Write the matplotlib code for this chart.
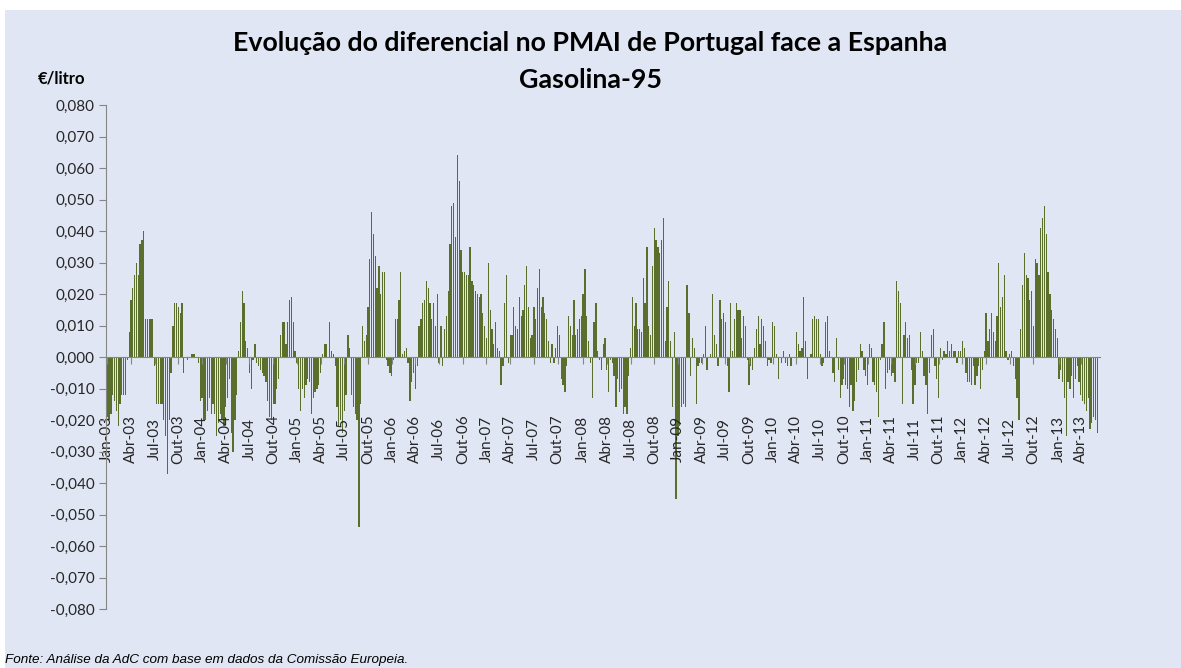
import numpy as np
import pandas as pd
import matplotlib
matplotlib.use("Agg")
import matplotlib.pyplot as plt
from matplotlib.patches import Rectangle
from matplotlib.ticker import FuncFormatter, MultipleLocator

# diferencial semanal PMAI Portugal - Espanha, gasolina 95 (EUR/litro)
# weekly values, first week = 6 Jan 2003
dif_2003 = [-0.019, -0.020, -0.018, -0.012, -0.014, -0.017, -0.022, -0.015, -0.012, -0.012, -0.012, -0.001,
            0.008, 0.018, 0.022, 0.026, 0.030, 0.026, 0.036, 0.037, 0.040, 0.012, 0.012, 0.012, 0.012, 0.012,
            -0.003, -0.015, -0.015, -0.015, -0.015, -0.020, -0.025, -0.037, -0.020, -0.005,
            0.010, 0.017, 0.017, 0.016, 0.014, 0.017, -0.005,
            0.000, -0.001, 0.000, 0.001, 0.001, 0.001, 0.000, -0.002, -0.014]
dif_2004 = [-0.013, -0.020, -0.020, -0.017, -0.013, -0.018, -0.015, -0.018, -0.025, -0.021, -0.018, -0.020,
            -0.022, -0.016, -0.013, -0.007, -0.024, -0.030, -0.020, -0.012,
            0.002, 0.011, 0.021, 0.017, 0.005, 0.003, -0.005, -0.010, -0.001, 0.004,
            -0.002, -0.003, -0.004, -0.005, -0.006, -0.008, -0.014, -0.019, -0.020,
            -0.015, -0.015, -0.010, -0.007,
            0.007, 0.011, 0.011, 0.004, 0.011, 0.018, 0.019, 0.011, 0.002]
dif_2005 = [-0.002, -0.010, -0.017, -0.010, -0.013, -0.009, -0.007, -0.008, -0.018, -0.013, -0.011, -0.010, -0.009, -0.005,
            0.001, 0.004, 0.004, 0.000, 0.011, 0.002,
            0.001, -0.003, -0.016, -0.022, -0.020, -0.024, -0.017, -0.012,
            0.007, 0.003,
            -0.012, -0.016, -0.018, -0.020, -0.054, -0.015,
            0.010, 0.005, 0.007, 0.016, 0.031, 0.046, 0.039, 0.032, 0.022, 0.029, 0.020, 0.027, 0.027,
            -0.001, -0.003, -0.005]
dif_2006 = [-0.006, -0.001,
            0.012, 0.012, 0.018, 0.027, 0.001, 0.002, 0.003,
            -0.002, -0.014, -0.008, -0.005, -0.010, -0.003,
            0.010, 0.012, 0.017, 0.018, 0.024, 0.022, 0.017, 0.012, 0.017, 0.010, 0.020, -0.002, 0.010, -0.003, 0.009,
            0.013, 0.021, 0.036, 0.048, 0.049, 0.038, 0.064, 0.056, 0.034, 0.027, 0.027, 0.026, 0.026, 0.035,
            0.024, 0.023, 0.021, 0.020, 0.019, 0.020, 0.014, 0.010]
dif_2007 = [0.006, 0.030, 0.015, 0.009, 0.004, 0.011, 0.003, 0.002, -0.009,
            -0.003, 0.017, 0.026, -0.002, 0.007, 0.007, 0.016, 0.010, 0.009, 0.019, 0.013, 0.015, 0.023, 0.029,
            0.016, 0.006, 0.007, 0.016, 0.012, 0.022, 0.028, 0.016, 0.019, 0.014, 0.012, 0.005, -0.002, 0.004,
            -0.002, 0.003, 0.010, 0.007, -0.007, -0.009, -0.011, -0.003, 0.013, 0.010, 0.007, 0.018, 0.007,
            0.009, 0.012]
dif_2008 = [0.013, 0.020, 0.028, 0.013, 0.005, -0.002, -0.013, 0.011, 0.017, 0.002, -0.001, -0.004,
            0.004, 0.006, -0.004, -0.011, -0.001, -0.002, -0.006, -0.016, -0.007, -0.011, -0.010, -0.018,
            -0.016, -0.018, -0.006, 0.003, 0.019, 0.010, 0.017, 0.009, 0.009, 0.008, 0.025, 0.017, 0.035,
            0.010, 0.007, 0.029, 0.041, 0.037, 0.035, 0.033, 0.037, 0.044, 0.005, 0.016, 0.024, 0.005,
            -0.016, 0.008]
dif_2009 = [-0.045, -0.025, -0.022, -0.016, -0.015, -0.016, 0.023, 0.014, -0.006, 0.006, 0.003, -0.015,
            -0.003, -0.002, -0.002, 0.001, 0.010, -0.004, 0.000, 0.001, 0.020, 0.007, 0.004, -0.003, 0.018,
            0.012, 0.014, 0.011, -0.003, -0.011, 0.017, 0.002, 0.012, 0.017, 0.015, 0.015, 0.006, 0.013,
            0.010, -0.001, -0.009, -0.003, -0.004, 0.003, 0.009, 0.013, 0.004, 0.012, 0.010, 0.005, -0.003,
            -0.001]
dif_2010 = [-0.002, 0.011, 0.010, 0.001, -0.007, 0.000, -0.002, 0.002, -0.002, -0.003, 0.001, -0.003,
            0.000, 0.000, 0.008, 0.004, 0.002, 0.003, 0.019, 0.005, -0.007, 0.000, 0.001, 0.012, 0.013,
            0.012, 0.012, 0.001, -0.003, -0.002, 0.011, 0.013, 0.002, 0.000, -0.005, -0.008, 0.006, -0.004,
            -0.013, -0.009, -0.007, -0.009, -0.010, -0.016, -0.009, -0.017, -0.014, -0.008, -0.004, 0.004,
            0.002, -0.004]
dif_2011 = [-0.006, -0.009, 0.004, 0.003, -0.008, -0.009, -0.011, -0.019, -0.001, 0.004, 0.011, -0.010,
            -0.005, -0.004, -0.006, -0.005, -0.008, 0.024, 0.021, 0.017, -0.015, 0.007, 0.011, 0.006, 0.007,
            -0.004, -0.015, -0.009, -0.002, -0.002, 0.008, 0.002, -0.006, -0.009, -0.018, -0.005, 0.007,
            0.009, -0.003, -0.007, -0.013, 0.003, -0.001, 0.002, 0.001, 0.005, 0.002, 0.004, 0.002, 0.002,
            -0.002, 0.002]
dif_2012 = [0.002, 0.005, 0.003, -0.005, -0.008, -0.008, -0.009, -0.003, -0.009, -0.006, -0.003, -0.010,
            -0.004, 0.002, 0.014, 0.005, 0.009, 0.014, 0.008, 0.005, 0.013, 0.030, 0.016, 0.019, 0.026,
            0.002, -0.001, 0.001, 0.002, -0.003, -0.007, -0.013, -0.020, 0.009, 0.023, 0.033, 0.026, 0.025,
            0.018, 0.021, 0.010, 0.031, 0.030, 0.026, 0.041, 0.044, 0.048, 0.039, 0.027, 0.020, 0.015, 0.012]
dif_2013 = [0.009, 0.006, -0.007, -0.004, -0.008, -0.013, -0.025, -0.008, -0.010, -0.006, -0.013, -0.007,
            -0.003, -0.008, -0.012, -0.014, -0.015, -0.017, -0.013, -0.023, -0.021, -0.019, -0.020, -0.024]

meses = {1: "Jan", 4: "Abr", 7: "Jul", 10: "Out"}

vals = np.array(dif_2003 + dif_2004 + dif_2005 + dif_2006 + dif_2007 + dif_2008 +
                dif_2009 + dif_2010 + dif_2011 + dif_2012 + dif_2013)
semanas = pd.date_range("2003-01-06", periods=len(vals), freq="7D")
x = np.arange(len(vals))

# quarter ticks -> first week of Jan/Abr/Jul/Out
trims = pd.date_range("2003-01-01", "2013-04-01", freq="QS")
tick_pos = np.searchsorted(semanas.values, trims.values)
tick_lab = [f"{meses[d.month]}-{d.strftime('%y')}" for d in trims]

bg = "#e0e6f4"
fig = plt.figure(figsize=(11.81, 6.68), dpi=100, facecolor="white")
fig.patches.append(Rectangle((5 / 1181, 0), 1 - 5 / 1181, 1 - 10 / 668,
                             transform=fig.transFigure, facecolor=bg, edgecolor="none", zorder=-10))

ax = fig.add_axes([106 / 1181, 1 - 609 / 668, (1100 - 106) / 1181, (609 - 105) / 668])
ax.set_facecolor("none")
ax.bar(x, vals, width=0.7, color="#5a6f2c", linewidth=0)

ax.set_ylim(-0.08, 0.08)
ax.set_xlim(-0.7, len(vals) + 0.5)
ax.yaxis.set_major_locator(MultipleLocator(0.01))
ax.yaxis.set_major_formatter(FuncFormatter(lambda v, p: f"{v:.3f}".replace(".", ",")))

for s in ["top", "right"]:
    ax.spines[s].set_visible(False)
ax.spines["left"].set_color("#868686")
ax.spines["bottom"].set_color("#868686")
ax.spines["bottom"].set_position(("data", 0))

ax.set_xticks(tick_pos)
ax.set_xticklabels(tick_lab, rotation=90, va="center", ha="center")
ax.tick_params(axis="x", length=5, color="#868686", pad=54, labelsize=11)
ax.tick_params(axis="y", length=5, color="#868686", pad=3, labelsize=11)
for lbl in ax.get_xticklabels() + ax.get_yticklabels():
    lbl.set_fontfamily("Lato")
    lbl.set_color("#262626")

fig.text(0.5, 1 - 43 / 668, "Evolução do diferencial no PMAI de Portugal face a Espanha",
         ha="center", va="center", fontsize=19.3, fontweight="bold", family="Lato")
fig.text(0.5, 1 - 80 / 668, "Gasolina-95",
         ha="center", va="center", fontsize=19.3, fontweight="bold", family="Lato")
fig.text(38 / 1181, 1 - 79 / 668, "€/litro", ha="left", va="center",
         fontsize=12, fontweight="bold", family="Lato")
fig.text(5 / 1181, 1 - 660 / 668, "Fonte: Análise da AdC com base em dados da Comissão Europeia.",
         ha="left", va="center", fontsize=9.7, style="italic", family="Liberation Sans")

fig.savefig("out.png", dpi=100, facecolor=fig.get_facecolor())
